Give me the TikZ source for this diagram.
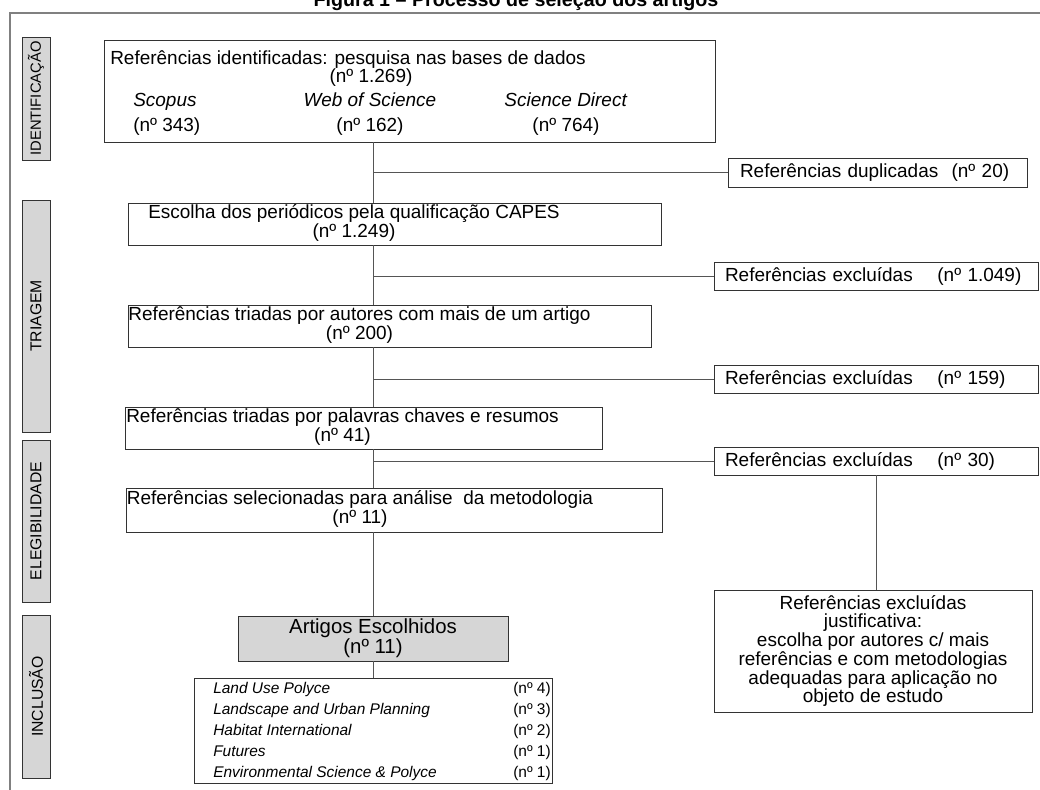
\documentclass[tikz,border=0pt]{standalone}
\usepackage{fontspec}
\setmainfont{Liberation Sans}
\definecolor{boxline}{HTML}{333333}
\definecolor{linegray}{HTML}{555555}
\definecolor{sidefill}{HTML}{D6D6D6}
\tikzset{
  sidebox/.style={draw=boxline, fill=sidefill, rectangle, rotate=90, minimum height=0.7cm, inner sep=0pt, line width=0.6pt, font=\fontsize{11.2}{12}\selectfont},
  mainbox/.style={draw=boxline, rectangle, inner sep=0pt, line width=0.6pt, font=\fontsize{13.5}{12.8}\selectfont},
  exbox/.style={mainbox, minimum width=8.1cm, minimum height=0.7cm, text width=7.55cm, align=left, inner xsep=0.275cm},
  conn/.style={draw=linegray, line width=0.6pt}
}
\begin{document}
\begin{tikzpicture}[x=1cm,y=1cm]
\useasboundingbox (0,0) rectangle (26,-19.75);
\node[font=\bfseries\fontsize{14}{14}\selectfont, anchor=base] (tit) at (12.9,-0.16) {Figura 1 – Processo de seleção dos artigos};
\draw[draw=gray, line width=1.2pt] (0.25,-20) -- (0.25,-0.325) -- (26.5,-0.325);

\node[sidebox, minimum width=3.075cm, font=\fontsize{10.5}{12}\selectfont] (s1) at (0.9,-2.4625) {IDENTIFICAÇÃO};
\node[sidebox, minimum width=5.8cm] (s2) at (0.9,-7.9) {TRIAGEM};
\node[sidebox, minimum width=4.05cm] (s3) at (0.9,-13.025) {ELEGIBILIDADE};
\node[sidebox, minimum width=4.075cm] (s4) at (0.9,-17.4125) {INCLUSÃO};

\node[mainbox, minimum width=15.275cm, minimum height=2.55cm] (ide) at (10.2375,-2.275) {};
\node[font=\fontsize{13.5}{12.8}\selectfont, align=center, inner sep=0pt] (idt) at (8.7,-1.7125) {Referências identificadas: pesquisa nas bases de dados\\\hspace*{1.15cm}(nº 1.269)};
\node[font=\fontsize{13.5}{12.8}\selectfont, align=left, anchor=west, inner sep=0pt] (sco) at (3.325,-2.85) {\textit{Scopus}\\[5pt](nº 343)};
\node[font=\fontsize{13.5}{12.8}\selectfont, align=center, inner sep=0pt] (wos) at (9.25,-2.85) {\textit{Web of Science}\\[5pt](nº 162)};
\node[font=\fontsize{13.5}{12.8}\selectfont, align=center, inner sep=0pt] (sdi) at (14.15,-2.85) {\textit{Science Direct}\\[5pt](nº 764)};

\node[mainbox, minimum width=7.475cm, minimum height=0.725cm, text width=6.875cm, align=left, inner xsep=0.3cm] (dup) at (21.9375,-4.3125) {Referências duplicadas\hspace{0.7em}(nº 20)};
\node[mainbox, minimum width=13.325cm, minimum height=1.05cm] (esc) at (9.8625,-5.6) {\begin{tabular}{@{}c@{}}Escolha dos periódicos pela qualificação CAPES\\(nº 1.249)\end{tabular}\hspace*{2.025cm}};
\node[exbox] (exa) at (21.9,-6.9) {Referências excluídas\hspace{1.3em}(nº 1.049)};
\node[mainbox, minimum width=13.075cm, minimum height=1.05cm] (tri) at (9.7375,-8.15) {\begin{tabular}{@{}c@{}}Referências triadas por autores com mais de um artigo\\(nº 200)\end{tabular}\hspace*{1.5cm}};
\node[exbox] (exb) at (21.9,-9.475) {Referências excluídas\hspace{1.3em}(nº 159)};
\node[mainbox, minimum width=11.925cm, minimum height=1.05cm] (pal) at (9.0875,-10.7) {\begin{tabular}{@{}c@{}}Referências triadas por palavras chaves e resumos\\(nº 41)\end{tabular}\hspace*{1.05cm}};
\node[exbox] (exc) at (21.9,-11.525) {Referências excluídas\hspace{1.3em}(nº 30)};
\node[mainbox, minimum width=13.325cm, minimum height=1.1cm] (sel) at (9.8625,-12.75) {\begin{tabular}{@{}c@{}}Referências selecionadas para análise\ \ da metodologia\\(nº 11)\end{tabular}\hspace*{1.725cm}};
\node[mainbox, minimum width=7.95cm, minimum height=3.05cm, align=center, font=\fontsize{13.5}{13.3}\selectfont] (jus) at (21.825,-16.275) {Referências excluídas\\justificativa:\\escolha por autores c/ mais\\referências e com metodologias\\adequadas para aplicação no\\objeto de estudo};
\node[mainbox, fill=sidefill, minimum width=6.75cm, minimum height=1.125cm, align=center, font=\fontsize{14.5}{14}\selectfont] (art) at (9.325,-15.9625) {Artigos Escolhidos\\(nº 11)};
\node[mainbox, minimum width=8.95cm, minimum height=2.6cm, font=\fontsize{11}{14.9}\selectfont] (jrn) at (9.325,-18.275) {\begin{tabular}{@{\hspace{0.45cm}}p{7.5cm}@{}l@{}}
\textit{Land Use Polyce} & (nº 4)\\
\textit{Landscape and Urban Planning} & (nº 3)\\
\textit{Habitat International} & (nº 2)\\
\textit{Futures} & (nº 1)\\
\textit{Environmental Science \& Polyce} & (nº 1)
\end{tabular}};

\draw[conn] (ide.south -| art) -- (esc.north -| art);
\draw[conn] (dup.west -| art) -- (dup.west);
\draw[conn] (esc.south -| art) -- (tri.north -| art);
\draw[conn] (exa.west -| art) -- (exa.west);
\draw[conn] (tri.south -| art) -- (pal.north -| art);
\draw[conn] (exb.west -| art) -- (exb.west);
\draw[conn] (pal.south -| art) -- (sel.north -| art);
\draw[conn] (exc.west -| art) -- (exc.west);
\draw[conn] (exc.south) -- (exc.south |- jus.north);
\draw[conn] (sel.south -| art) -- (art.north);
\draw[conn] (art.south) -- (jrn.north);
\end{tikzpicture}
\end{document}
